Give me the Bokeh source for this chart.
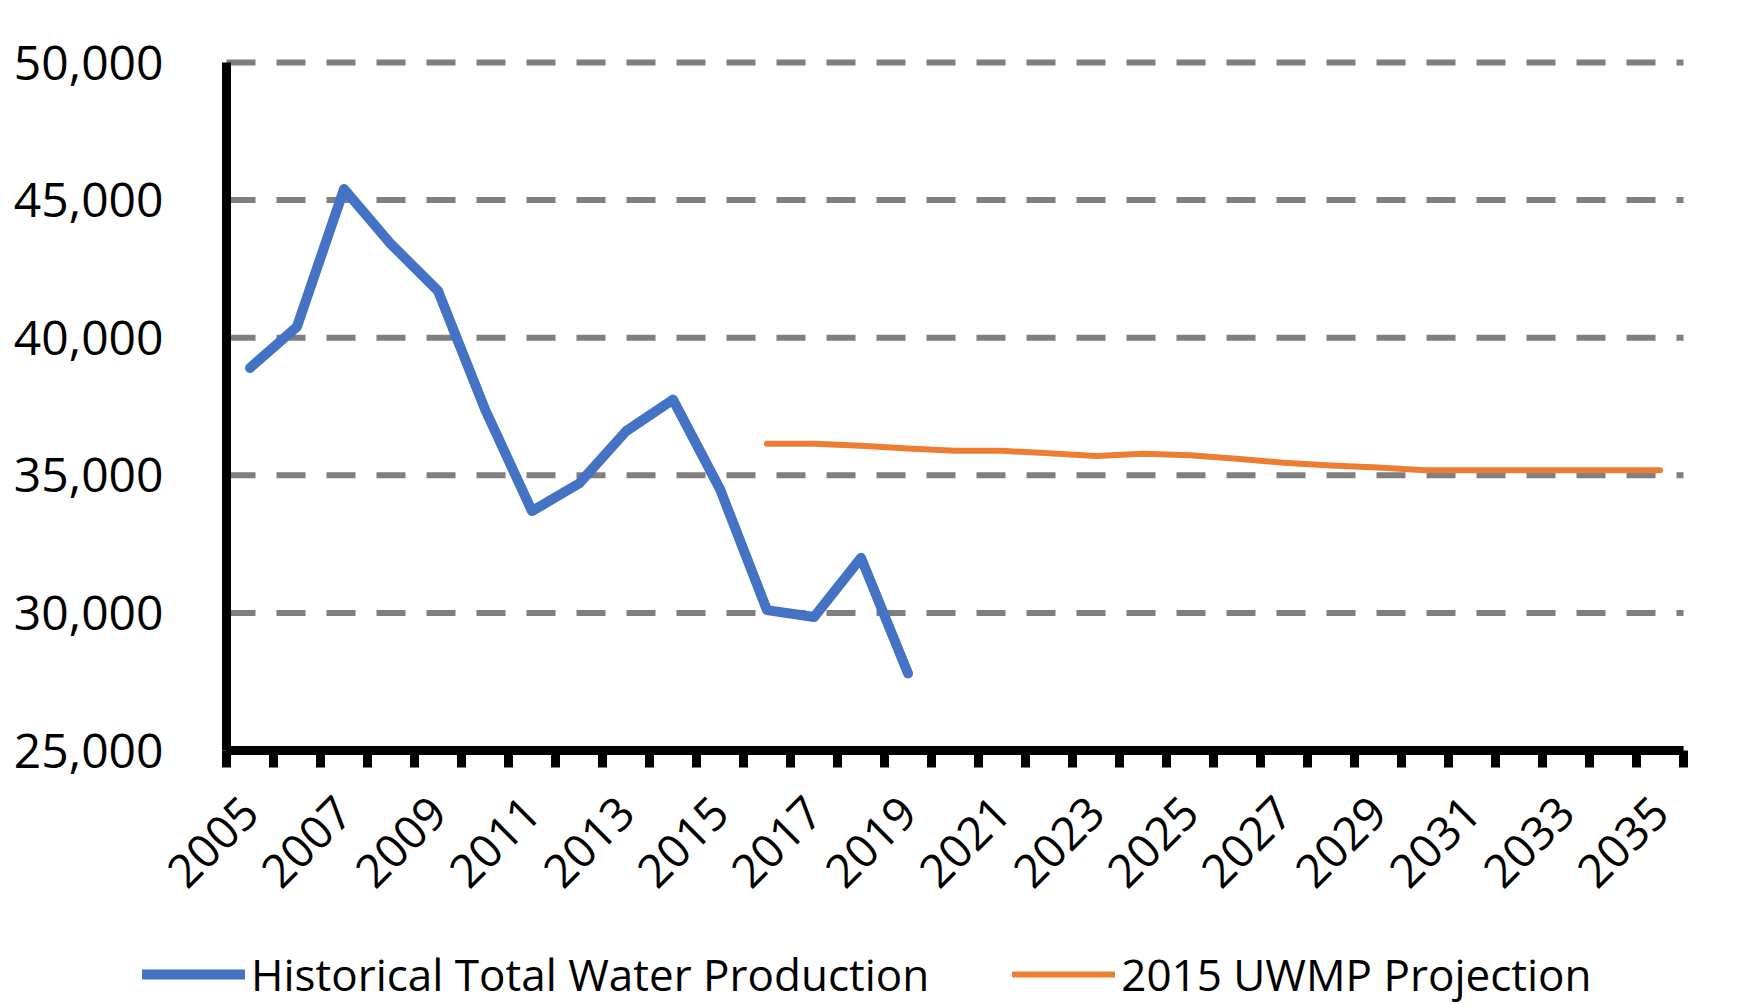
import math
from bokeh.plotting import figure
from bokeh.models import (Range1d, FixedTicker, NumeralTickFormatter, Legend, LegendItem,
                          ColumnDataSource)
from bokeh.embed import file_html
from bokeh.resources import INLINE

# ---------------- data ----------------
hist_years = [2005, 2006, 2007, 2008, 2009, 2010, 2011, 2012, 2013, 2014,
              2015, 2016, 2017, 2018, 2019]
hist_values = [38900, 40400, 45400, 43400, 41700, 37400, 33700, 34700, 36600, 37750,
               34500, 30100, 29850, 32000, 27800]

proj_years = [2016, 2017, 2018, 2019, 2020, 2021, 2022, 2023, 2024, 2025,
              2026, 2027, 2028, 2029, 2030, 2031, 2032, 2033, 2034, 2035]
proj_values = [36150, 36150, 36070, 35970, 35890, 35890, 35800, 35700, 35780, 35730,
               35600, 35460, 35360, 35280, 35180, 35180, 35180, 35180, 35180, 35180]

x_label_years = [2005, 2007, 2009, 2011, 2013, 2015, 2017, 2019, 2021, 2023,
                 2025, 2027, 2029, 2031, 2033, 2035]
y_ticks = [25000, 30000, 35000, 40000, 45000, 50000]

series_names = ["Historical Total Water Production", "2015 UWMP Projection"]
series_colors = ["#4472C4", "#ED7D31"]
series_widths = [10, 6]

FONT = "Open Sans"

# ---------------- layout (pixels) ----------------
W, H = 1744, 1004
PLOT_L, PLOT_R, PLOT_T, PLOT_B = 226, 1683, 62, 750   # plotting area inside the canvas

first, last = hist_years[0], proj_years[-1]
x0, x1 = first - 0.5, last + 0.5
y0, y1 = y_ticks[0], y_ticks[-1]
xs = (PLOT_R - PLOT_L) / (x1 - x0)      # px per year
ys = (PLOT_B - PLOT_T) / (y1 - y0)      # px per unit
x_range = Range1d(x0 - PLOT_L / xs, x1 + (W - PLOT_R) / xs)
y_range = Range1d(y0 - (H - PLOT_B) / ys, y1 + PLOT_T / ys)

p = figure(width=W, height=H, x_range=x_range, y_range=y_range,
           output_backend="svg", toolbar_location=None,
           min_border_left=0, min_border_right=0, min_border_top=0, min_border_bottom=0)
p.outline_line_color = None
p.background_fill_color = "white"
p.border_fill_color = "white"
p.xgrid.grid_line_color = None
p.ygrid.grid_line_color = None

# dashed horizontal gridlines, limited to the category span (one per y tick)
grid_src = ColumnDataSource(dict(xa=[x0] * len(y_ticks), xb=[x1] * len(y_ticks),
                                 y=y_ticks))
p.segment(x0="xa", y0="y", x1="xb", y1="y", source=grid_src,
          line_color="#7f7f7f", line_width=6, line_dash="29 21")

src_h = ColumnDataSource(dict(x=hist_years, y=hist_values))
src_p = ColumnDataSource(dict(x=proj_years, y=proj_values))

r_hist = p.line("x", "y", source=src_h, line_color=series_colors[0], line_width=series_widths[0],
                line_cap="round", line_join="round")
r_proj = p.line("x", "y", source=src_p, line_color=series_colors[1], line_width=series_widths[1],
                line_cap="round", line_join="round")

# ---------------- axes ----------------
boundaries = [y - 0.5 for y in range(first, last + 2)]
xa = p.xaxis[0]
xa.fixed_location = y0
xa.bounds = (x0, x1)
xa.ticker = FixedTicker(ticks=x_label_years, minor_ticks=boundaries)
xa.axis_line_color = "black"
xa.axis_line_width = 9
xa.major_tick_line_color = None
xa.major_tick_out = 0
xa.major_tick_in = 0
xa.minor_tick_line_color = "black"
xa.minor_tick_line_width = 9
xa.minor_tick_out = 17
xa.minor_tick_in = 0
xa.major_label_orientation = math.pi / 4
xa.major_label_standoff = 37
xa.major_label_text_font = FONT
xa.major_label_text_font_size = "46px"
xa.major_label_text_color = "black"
xa.major_label_overrides = {y: str(y) for y in x_label_years}

ya = p.yaxis[0]
ya.fixed_location = x0
ya.bounds = (y0, y1)
ya.ticker = FixedTicker(ticks=y_ticks, minor_ticks=[])
ya.formatter = NumeralTickFormatter(format="0,0")
ya.axis_line_color = "black"
ya.axis_line_width = 9
ya.major_tick_line_color = None
ya.major_tick_out = 0
ya.major_tick_in = 0
ya.minor_tick_line_color = None
ya.major_label_standoff = 63
ya.major_label_text_font = FONT
ya.major_label_text_font_size = "48px"
ya.major_label_text_color = "black"

# ---------------- legend ----------------
legend = Legend(items=[LegendItem(label=series_names[0], renderers=[r_hist]),
                       LegendItem(label=series_names[1], renderers=[r_proj])],
                orientation="horizontal", location=(142, 0),
                glyph_width=103, glyph_height=40, label_height=40,
                label_standoff=6, spacing=83, padding=0, margin=0,
                border_line_color=None, background_fill_alpha=0,
                label_text_font=FONT, label_text_font_size="44px",
                label_text_color="black")
p.add_layout(legend)

open("out.html", "w").write(file_html(p, INLINE))
